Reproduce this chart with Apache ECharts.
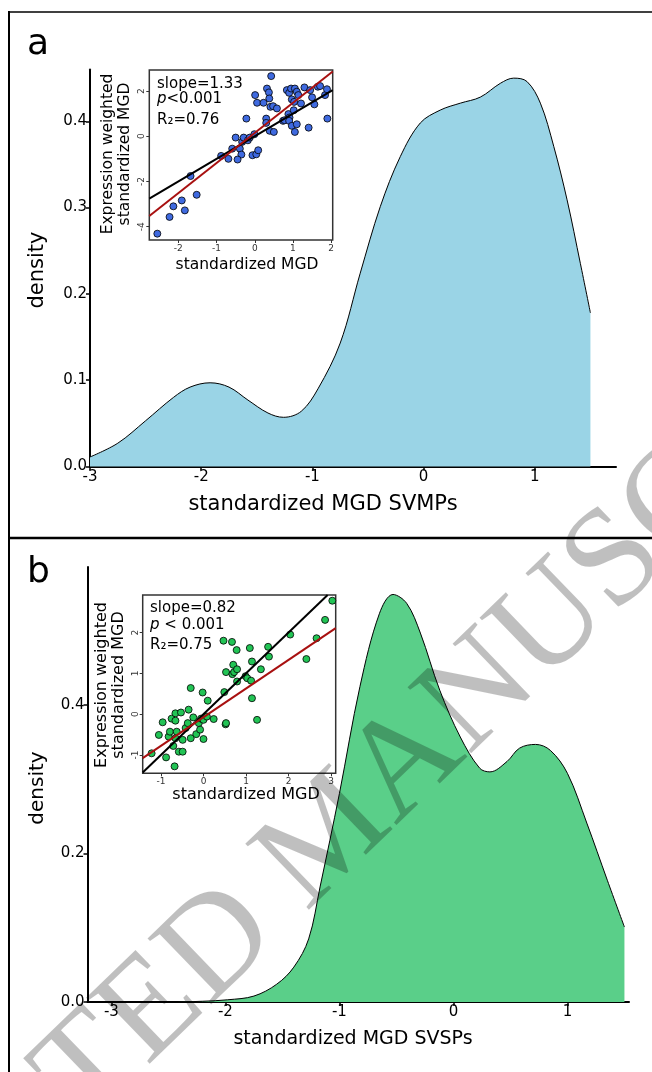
<!DOCTYPE html>
<html><head><meta charset="utf-8">
<script src="https://cdn.jsdelivr.net/npm/echarts@6/dist/echarts.min.js"></script>
<style>html,body{margin:0;padding:0;background:#fff}#c{width:652px;height:1072px}</style>
</head><body><div id="c"></div>
<script>
// ---------- data ----------
const densA_x = [-3.0,-2.75,-2.5,-2.25,-2.1,-1.92,-1.75,-1.58,-1.4,-1.26,-1.1,-0.95,-0.75,-0.57,-0.39,-0.21,-0.03,0.15,0.33,0.51,0.69,0.81,0.93,1.05,1.17,1.29,1.41,1.5];
const densA_y = [0.011,0.027,0.053,0.080,0.092,0.097,0.092,0.077,0.062,0.057,0.064,0.090,0.143,0.224,0.301,0.359,0.398,0.413,0.421,0.428,0.444,0.450,0.446,0.421,0.371,0.309,0.235,0.178];
const densB_x = [-3.21,-2.5,-2.2,-1.98,-1.75,-1.55,-1.4,-1.27,-1.17,-1.0,-0.82,-0.65,-0.53,-0.41,-0.29,-0.12,0.06,0.23,0.32,0.47,0.58,0.72,0.85,1.0,1.17,1.35,1.5];
const densB_y = [0,0,0.001,0.003,0.008,0.024,0.047,0.085,0.155,0.281,0.425,0.523,0.549,0.537,0.497,0.420,0.357,0.315,0.310,0.324,0.342,0.347,0.339,0.308,0.241,0.164,0.101];

const scatA_x = [-2.55,-2.23,-2.13,-1.91,-1.83,-1.52,-1.68,-0.88,-0.69,-0.59,-0.50,-0.39,-0.35,-0.33,-0.29,-0.22,-0.18,-0.13,-0.45,-0.06,0.04,0.09,-0.01,0.01,0.06,0.23,0.30,0.30,0.32,0.37,0.38,0.41,0.43,0.48,0.39,0.50,0.58,0.74,0.78,0.88,0.91,0.90,0.84,0.90,0.95,0.97,0.97,1.02,1.03,1.05,1.10,1.05,1.10,1.14,1.21,1.30,1.41,1.45,1.50,1.56,1.65,1.71,1.84,1.89,1.90];
const scatA_y = [-4.31,-3.57,-3.10,-2.84,-3.28,-2.59,-1.76,-0.87,-1.00,-0.55,-0.06,-0.55,-0.81,-0.25,-0.06,0.78,-0.18,-0.06,-1.03,-0.84,-0.80,-0.62,0.09,1.82,1.48,1.48,0.78,0.59,2.11,1.94,1.67,1.30,2.66,1.33,0.24,0.19,1.23,0.68,0.71,0.98,0.83,0.68,2.04,1.92,2.11,1.63,0.46,1.15,1.52,2.11,1.97,0.19,0.53,1.82,1.45,2.16,0.38,2.04,1.72,1.41,2.19,2.22,1.82,2.08,0.78];
const scatB_x = [-1.22,-1.05,-0.96,-0.88,-0.82,-0.79,-0.75,-0.71,-0.68,-0.66,-0.66,-0.66,-0.63,-0.58,-0.53,-0.49,-0.49,-0.42,-0.37,-0.35,-0.30,-0.30,-0.24,-0.17,-0.11,-0.08,-0.06,-0.02,0.0,0.0,0.08,0.10,0.24,0.47,0.49,0.52,0.53,0.53,0.67,0.68,0.70,0.72,0.78,0.79,0.79,0.99,1.03,1.09,1.12,1.14,1.14,1.26,1.35,1.52,1.54,2.04,2.42,2.66,2.86,3.03];
const scatB_y = [-0.96,-0.51,-0.20,-1.06,-0.55,-0.43,-0.11,-0.78,-1.28,0.02,-0.16,-0.59,-0.43,-0.92,0.04,-0.92,-0.63,-0.34,-0.22,0.11,-0.59,0.64,-0.08,-0.49,-0.22,-0.38,-0.11,0.53,-0.61,-0.14,-0.06,0.33,-0.12,1.80,0.54,-0.25,-0.22,1.03,1.77,0.98,1.21,1.03,1.57,1.10,0.80,0.93,0.88,1.62,0.82,0.39,1.29,-0.14,1.10,1.65,1.41,1.95,1.35,1.86,2.31,2.78];

// fitted (red) and 1:1 (black) line end points
const fitA = [[-2.76,-3.53],[2.04,2.86]];
const oneA = [[-2.76,-2.76],[2.04,2.04]];
const fitB = [[-1.43,-1.08],[3.11,2.11]];
const oneB = [[-1.43,-1.43],[2.92,2.92]];

const ticksA_x = [-3,-2,-1,0,1];
const ticksA_y = [0,0.1,0.2,0.3,0.4];
const ticksB_x = [-3,-2,-1,0,1];
const ticksB_y = [0,0.2,0.4];
const insA_x = [-2,-1,0,1,2];
const insA_y = [-4,-2,0,2];
const insB_x = [-1,0,1,2,3];
const insB_y = [-1,0,1,2];

const statsA = ['slope=1.33','<0.001','R\u2082=0.76'];
const statsB = ['slope=0.82',' < 0.001','R\u2082=0.75'];

// ---------- chart ----------
const FONT = 'DejaVu Sans';
const zip = (a,b)=>a.map((v,i)=>[v,b[i]]);
const chart = echarts.init(document.getElementById('c'), null, {renderer:'canvas'});

function mainX(grid,min,max,ticks){
  return {gridIndex:grid,type:'value',min:min,max:max,
    axisLine:{show:true,onZero:false,lineStyle:{color:'#000',width:2}},
    axisTick:{show:true,length:4,customValues:ticks,lineStyle:{color:'#000',width:1.5}},
    axisLabel:{show:true,customValues:ticks,fontSize:15,fontFamily:FONT,color:'#000',margin:3,formatter:v=>String(v)},
    splitLine:{show:false}};
}
function mainY(grid,min,max,ticks){
  return {gridIndex:grid,type:'value',min:min,max:max,
    axisLine:{show:true,onZero:false,lineStyle:{color:'#000',width:2}},
    axisTick:{show:true,length:4,customValues:ticks,lineStyle:{color:'#000',width:1.5}},
    axisLabel:{show:true,customValues:ticks,fontSize:15,fontFamily:FONT,color:'#000',margin:3,formatter:v=>v.toFixed(1)},
    splitLine:{show:false}};
}
function insX(grid,min,max,ticks){
  return {gridIndex:grid,type:'value',min:min,max:max,
    axisLine:{show:false,onZero:false},
    axisTick:{show:true,length:3,customValues:ticks,lineStyle:{color:'#333',width:1}},
    axisLabel:{show:true,customValues:ticks,fontSize:9,fontFamily:FONT,color:'#333',margin:4},
    splitLine:{show:false}};
}
function insY(grid,min,max,ticks){
  return {gridIndex:grid,type:'value',min:min,max:max,
    axisLine:{show:false,onZero:false},
    axisTick:{show:true,length:3,customValues:ticks,lineStyle:{color:'#333',width:1}},
    axisLabel:{show:true,customValues:ticks,fontSize:9,fontFamily:FONT,color:'#333',margin:3,rotate:90},
    splitLine:{show:false}};
}

function txt(x,y,text,size,opts){
  return Object.assign({type:'text',x:x,y:y,z:50,silent:true,
    style:Object.assign({text:text,fontSize:size,fontFamily:FONT,fill:'#000',textAlign:'center',textVerticalAlign:'middle'},(opts&&opts.style)||{})},
    (opts&&opts.el)||{});
}
const R90 = Math.PI/2;
const richStats = {i:{fontStyle:'italic',fontSize:15,fontFamily:FONT,fill:'#000'}};

const option = {
  animation:false,
  backgroundColor:'#fff',
  grid:[
    {left:90,top:69.5,width:526,height:397},
    {left:149.3,top:70,width:183.4,height:170,show:true,borderColor:'#333',borderWidth:1.5,backgroundColor:'#fff'},
    {left:87.5,top:567,width:541.5,height:435},
    {left:142.7,top:595,width:193,height:178.3,show:true,borderColor:'#333',borderWidth:1.5,backgroundColor:'#fff'}
  ],
  xAxis:[
    mainX(0,-3,1.73,ticksA_x),
    insX(1,-2.76,2.04,insA_x),
    mainX(2,-3.21,1.54,ticksB_x),
    insX(3,-1.43,3.11,insB_x)
  ],
  yAxis:[
    mainY(0,0,0.46,ticksA_y),
    insY(1,-4.59,2.93,insA_y),
    mainY(2,0,0.586,ticksB_y),
    insY(3,-1.45,2.92,insB_y)
  ],
  series:[
    {type:'line',xAxisIndex:0,yAxisIndex:0,data:zip(densA_x,densA_y),smooth:0.35,symbol:'none',
      lineStyle:{color:'#000',width:1},areaStyle:{color:'#9ad4e6',opacity:1}},
    {type:'line',xAxisIndex:2,yAxisIndex:2,data:zip(densB_x,densB_y),smooth:0.35,symbol:'none',
      lineStyle:{color:'#000',width:1},areaStyle:{color:'#5acf89',opacity:1}},
    {type:'scatter',xAxisIndex:1,yAxisIndex:1,data:zip(scatA_x,scatA_y),symbolSize:7,
      itemStyle:{color:'#3f6ae0',borderColor:'#000',borderWidth:0.8,opacity:1}},
    {type:'line',xAxisIndex:1,yAxisIndex:1,data:oneA,symbol:'none',lineStyle:{color:'#000',width:2}},
    {type:'line',xAxisIndex:1,yAxisIndex:1,data:fitA,symbol:'none',lineStyle:{color:'#a81010',width:2}},
    {type:'scatter',xAxisIndex:3,yAxisIndex:3,data:zip(scatB_x,scatB_y),symbolSize:7,
      itemStyle:{color:'#22c455',borderColor:'#000',borderWidth:0.8,opacity:1}},
    {type:'line',xAxisIndex:3,yAxisIndex:3,data:oneB,symbol:'none',lineStyle:{color:'#000',width:2}},
    {type:'line',xAxisIndex:3,yAxisIndex:3,data:fitB,symbol:'none',lineStyle:{color:'#a81010',width:2}}
  ],
  graphic:[
    // panel frames
    {type:'line',z:40,silent:true,shape:{x1:9,y1:12,x2:652,y2:12},style:{stroke:'#000',lineWidth:1.5}},
    {type:'line',z:40,silent:true,shape:{x1:9,y1:11,x2:9,y2:1072},style:{stroke:'#000',lineWidth:2}},
    {type:'line',z:40,silent:true,shape:{x1:9,y1:538,x2:652,y2:538},style:{stroke:'#000',lineWidth:2.5}},
    // panel letters
    txt(27,45,'a',36,{style:{textAlign:'left'}}),
    txt(27,573,'b',36,{style:{textAlign:'left'}}),
    // main axis titles
    txt(38,270,'density',21,{el:{rotation:R90}}),
    txt(323,505,'standardized MGD SVMPs',21),
    txt(38,788,'density',20,{el:{rotation:R90}}),
    txt(353,1039,'standardized MGD SVSPs',19),
    // inset a titles
    txt(108,154,'Expression weighted',15.5,{el:{rotation:R90}}),
    txt(125,154,'standardized MGD',15.5,{el:{rotation:R90}}),
    txt(247,265,'standardized MGD',15.5),
    txt(157,84,statsA[0],15,{style:{textAlign:'left'}}),
    {type:'text',x:157,y:99,z:50,silent:true,style:{text:'{i|p}'+statsA[1],rich:richStats,fontSize:15,fontFamily:FONT,fill:'#000',textAlign:'left',textVerticalAlign:'middle'}},
    txt(157,120,statsA[2],15,{style:{textAlign:'left'}}),
    // inset b titles
    txt(102,685,'Expression weighted',16,{el:{rotation:R90}}),
    txt(119,685,'standardized MGD',16,{el:{rotation:R90}}),
    txt(246,795,'standardized MGD',16),
    txt(150,608,statsB[0],15,{style:{textAlign:'left'}}),
    {type:'text',x:150,y:625,z:50,silent:true,style:{text:'{i|p}'+statsB[1],rich:richStats,fontSize:15,fontFamily:FONT,fill:'#000',textAlign:'left',textVerticalAlign:'middle'}},
    txt(150,645,statsB[2],15,{style:{textAlign:'left'}}),
    // watermark
    {type:'text',x:-265,y:1413,rotation:0.768,z:100,silent:true,
      style:{text:'ACCEPTED MANUSCRIPT',fontSize:140,fontFamily:'Liberation Serif',fill:'rgba(0,0,0,0.25)',textAlign:'left',textVerticalAlign:'middle'}}
  ]
};
chart.setOption(option);
</script>
</body></html>
